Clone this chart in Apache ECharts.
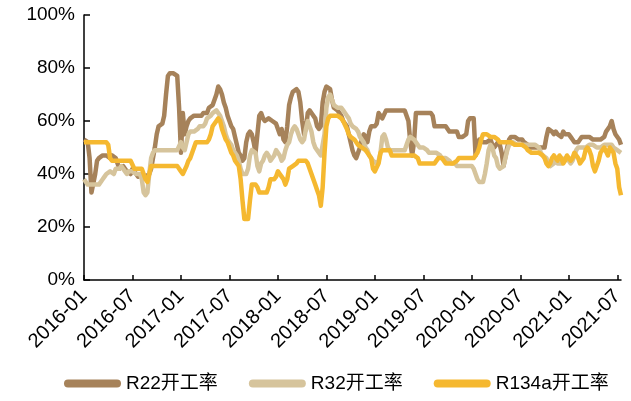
<!DOCTYPE html>
<html>
<head>
<meta charset="utf-8">
<script src="https://cdn.jsdelivr.net/npm/echarts@6/dist/echarts.min.js"></script>
<style>
  html, body { margin: 0; padding: 0; background: #ffffff; }
  #chart { width: 631px; height: 401px; }
</style>
</head>
<body>
<div id="chart"></div>
<script>
// Weekly operating rates (%) of three refrigerants, Jan 2016 – Jul 2021
const tickLabels = ['2016-01', '2016-07', '2017-01', '2017-07', '2018-01', '2018-07',
                    '2019-01', '2019-07', '2020-01', '2020-07', '2021-01', '2021-07'];

const r22 = [
  53,53,52,46,33,33,40,45,46,46,
  47,47,47,47,46,47,47,46,44,42,
  42,43,42,41,41,40,42,42,40,39,
  39,40,40,39,39,40,42,46,50,55,
  58,58,59,62,70,77,78,78,78,78,
  77,65,48,63,55,58,60,61,61,62,
  62,62,62,62,63,63,63,65,65,66,
  66,70,73,72,70,67,65,62,60,58,
  57,54,51,48,47,45,46,52,55,56,
  55,52,48,55,62,63,61,60,60,61,
  61,60,60,59,57,55,57,53,52,58,
  66,69,71,71,72,71,67,60,55,57,
  63,64,63,63,61,58,57,58,67,71,
  73,73,72,68,65,65,64,64,62,60,
  60,58,55,52,49,47,46,46,50,53,
  55,54,52,56,58,58,58,59,63,63,
  61,61,64,64,64,64,64,64,64,64,
  64,64,64,64,60,52,47,52,63,63,
  63,63,63,63,63,63,63,62,58,58,
  58,58,58,58,58,57,56,56,56,56,
  56,54,54,54,54,55,60,61,61,61,
  47,50,53,53,52,52,52,52,53,51,
  50,51,52,51,48,43,43,50,53,54,
  54,54,54,53,53,53,52,52,51,50,
  50,50,50,50,50,50,50,50,54,57,
  57,56,55,56,55,55,54,56,55,55,
  55,54,53,52,52,52,53,54,54,54,
  54,54,54,53,53,53,53,53,53,54,
  56,56,58,60,57,55,55,53,51
];

const r32 = [
  38,37,36,36,36,36,36,36,36,36,
  38,39,40,40,41,41,40,42,42,42,
  43,42,41,40,41,41,41,41,40,40,
  40,38,33,32,33,40,46,48,49,49,
  49,49,49,49,49,49,49,49,49,49,
  49,49,52,50,49,52,55,56,56,56,
  56,57,58,58,58,59,61,61,62,63,
  63,64,64,62,60,58,55,53,52,51,
  49,48,47,45,42,40,40,40,42,47,
  49,49,48,43,41,44,45,47,48,47,
  45,45,47,49,49,47,45,46,49,51,
  52,55,57,58,57,55,53,52,53,57,
  60,60,56,52,50,49,49,47,47,55,
  65,69,70,68,66,66,65,65,65,64,
  63,62,61,59,58,58,57,56,54,53,
  52,50,49,47,46,45,45,44,45,48,
  54,55,53,50,49,49,49,49,49,49,
  49,49,49,51,53,54,54,53,53,51,
  50,50,50,50,49,48,48,48,48,48,
  48,47,46,46,46,46,45,44,44,44,
  43,43,43,43,43,43,43,43,43,42,
  40,38,37,37,37,40,44,49,51,50,
  47,46,43,42,42,43,46,49,51,51,
  52,52,51,51,51,51,51,51,51,51,
  51,51,51,51,50,48,47,47,46,44,
  43,43,44,45,44,44,44,45,46,46,
  45,44,45,47,49,50,50,50,50,50,
  50,51,51,51,51,50,50,50,50,51,
  51,51,51,51,50,50,49,49,48
];

const r134a = [
  52,52,52,52,52,52,52,52,52,52,
  52,52,52,51,46,45,45,45,45,45,
  45,45,45,45,45,45,45,42,42,42,
  42,42,42,38,37,37,43,43,43,43,
  43,43,43,43,43,43,43,43,43,43,
  43,43,41,40,40,43,45,46,48,50,
  52,52,52,52,52,52,52,53,55,58,
  58,60,61,60,57,55,53,52,50,48,
  47,45,45,43,38,30,23,23,23,30,
  36,36,36,35,33,33,33,33,33,35,
  38,38,38,39,41,40,39,38,36,38,
  42,42,43,43,44,45,45,45,45,45,
  44,42,40,38,36,34,32,28,35,48,
  58,61,62,62,62,62,62,62,61,60,
  60,57,55,54,54,53,52,51,51,50,
  50,49,48,48,46,42,41,41,44,48,
  49,49,49,49,49,47,47,47,47,47,
  47,47,47,47,47,47,47,47,47,46,
  44,44,44,44,44,44,44,44,44,44,
  46,46,46,46,44,44,44,44,44,44,
  45,46,46,46,46,46,46,46,46,46,
  46,48,50,53,55,55,55,55,54,54,
  54,54,53,52,52,52,52,52,52,52,
  52,51,51,51,51,51,51,50,49,49,
  48,48,48,48,48,48,47,46,44,43,
  44,46,47,46,45,47,46,44,45,47,
  46,45,46,48,48,46,44,44,46,49,
  50,49,47,43,41,41,45,48,48,50,
  50,47,50,50,48,44,42,35,32
];

const seriesNames = ['R22开工率', 'R32开工率', 'R134a开工率'];
const seriesColors = ['#A6825A', '#D6C49C', '#F5B830'];
const weeksPerTick = 26;

// One category per week; every 26th week carries a half-year label
const categories = r22.map((_, i) =>
  i % weeksPerTick === 0 ? tickLabels[i / weeksPerTick] : 'w' + i);
const onTick = (index) => index % weeksPerTick === 0;

const font = "'Liberation Sans', Arial, 'Noto Sans CJK SC', sans-serif";
const chart = echarts.init(document.getElementById('chart'));

chart.setOption({
  animation: false,
  backgroundColor: '#ffffff',
  color: seriesColors,
  grid: { left: 84, right: 10, top: 15, bottom: 121, containLabel: false },
  legend: {
    data: seriesNames,
    left: 59,
    top: 369,
    itemWidth: 57,
    itemHeight: 8,
    itemGap: 31,
    icon: 'path://M4,0 H53 A4,4 0 0 1 53,8 H4 A4,4 0 0 1 4,0 Z',
    textStyle: { fontFamily: font, fontSize: 19, color: '#000000', padding: [0, 0, 0, 0] }
  },
  xAxis: {
    type: 'category',
    data: categories,
    boundaryGap: false,
    axisLine: { show: true, lineStyle: { color: '#000000', width: 1.5 } },
    axisTick: { show: true, inside: true, length: 5, interval: onTick,
                lineStyle: { color: '#000000', width: 1.5 } },
    axisLabel: {
      interval: onTick,
      rotate: 45,
      margin: 13,
      fontFamily: font,
      fontSize: 20,
      color: '#000000'
    },
    splitLine: { show: false }
  },
  yAxis: {
    type: 'value',
    min: 0,
    max: 100,
    interval: 20,
    axisLine: { show: true, lineStyle: { color: '#000000', width: 1.5 } },
    axisTick: { show: true, inside: true, length: 6, lineStyle: { color: '#000000', width: 1.5 } },
    axisLabel: { formatter: '{value}%', margin: 9, fontFamily: font, fontSize: 19, color: '#000000' },
    splitLine: { show: false }
  },
  series: [r22, r32, r134a].map((values, k) => ({
    name: seriesNames[k],
    type: 'line',
    data: values,
    showSymbol: false,
    symbol: 'none',
    lineStyle: { width: 4.5, color: seriesColors[k], join: 'round' },
    itemStyle: { color: seriesColors[k] }
  }))
});
</script>
</body>
</html>
